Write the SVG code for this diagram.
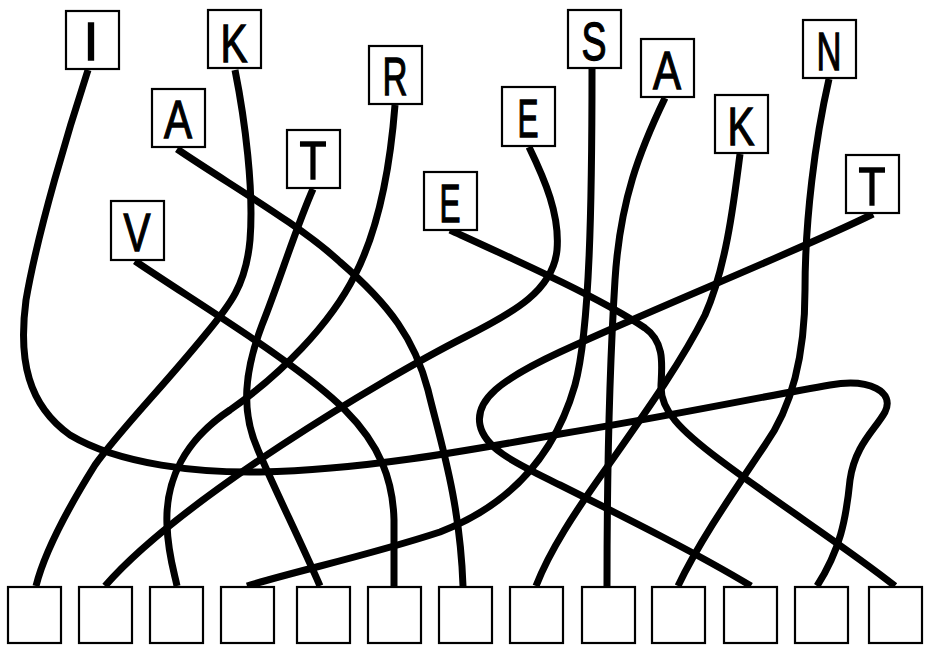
<svg xmlns="http://www.w3.org/2000/svg" width="928" height="646" viewBox="0 0 928 646">
<style>
.bx{fill:#fff;stroke:#000;stroke-width:2.2}
.lb{font-family:"Liberation Sans",Arial,sans-serif;font-size:54px;font-weight:normal;text-anchor:middle;fill:#000;stroke:#000;stroke-width:1.3}
.ln{fill:none;stroke:#000;stroke-width:7;stroke-linecap:butt}
</style>
<rect width="928" height="646" fill="#fff"/>
<g id="connectors">
<path class="ln" d="M88,70 C70,125 38,230 26,300 C18,360 28,405 70,435 C120,465 200,473 260,472 C360,470 460,452 560,434 C660,418 760,397 830,385 C870,378 895,392 885,412 C875,430 855,445 850,480 C846,520 840,550 817,586"/>
<path class="ln" d="M235,70 C245,120 254,190 250,240 C246,285 230,305 205,335 C160,390 120,430 95,465 C70,505 45,550 36,586"/>
<path class="ln" d="M177,149 C230,185 300,225 340,262 C390,305 415,340 428,390 C440,440 460,500 463,586"/>
<path class="ln" d="M395,105 C390,170 378,230 355,275 C330,325 280,375 230,410 C185,440 165,480 167,525 C168,555 175,575 177,586"/>
<path class="ln" d="M313,189 C295,230 280,280 262,325 C245,370 240,410 258,450 C275,490 300,540 320,586"/>
<path class="ln" d="M135,261 C200,305 300,365 345,410 C380,445 393,480 394,520 C394,550 394,570 394,586"/>
<path class="ln" d="M450,230 C520,262 600,298 645,328 C665,342 662,365 661,385 C660,410 680,430 720,460 C780,505 850,550 895,586"/>
<path class="ln" d="M529,147 C545,180 560,215 557,250 C553,290 515,312 465,337 C380,380 180,500 105,586"/>
<path class="ln" d="M873,214 C800,250 650,310 560,352 C500,380 475,400 480,425 C485,450 520,465 560,485 C630,520 700,555 751,586"/>
<path class="ln" d="M592,69 C592,200 590,330 575,385 C555,455 510,505 440,532 C370,555 300,570 247,586"/>
<path class="ln" d="M665,98 C640,150 620,200 615,280 C610,360 607,450 607,586"/>
<path class="ln" d="M740,154 C733,210 725,270 705,315 C680,365 640,420 605,470 C575,512 550,550 536,586"/>
<path class="ln" d="M829,79 C815,140 805,220 805,290 C805,360 790,410 765,445 C735,490 700,540 678,586"/>
</g>
<g id="top-I"><rect class="bx" x="66" y="11" width="53" height="58"/><text class="lb" x="91" y="60">I</text></g>
<g id="top-K1"><rect class="bx" x="208" y="10" width="53" height="58"/><text class="lb" x="234" y="62" textLength="27" lengthAdjust="spacingAndGlyphs">K</text></g>
<g id="top-A1"><rect class="bx" x="152" y="89" width="53" height="58"/><text class="lb" x="178" y="138" textLength="28" lengthAdjust="spacingAndGlyphs">A</text></g>
<g id="top-R"><rect class="bx" x="369" y="46" width="53" height="58"/><text class="lb" x="395" y="95" textLength="25" lengthAdjust="spacingAndGlyphs">R</text></g>
<g id="top-T1"><rect class="bx" x="287" y="130" width="53" height="58"/><text class="lb" x="313" y="179" textLength="27" lengthAdjust="spacingAndGlyphs">T</text></g>
<g id="top-V"><rect class="bx" x="111" y="201" width="53" height="59"/><text class="lb" x="137" y="251" textLength="27" lengthAdjust="spacingAndGlyphs">V</text></g>
<g id="top-E1"><rect class="bx" x="424" y="172" width="53" height="58"/><text class="lb" x="450" y="222" textLength="21" lengthAdjust="spacingAndGlyphs">E</text></g>
<g id="top-E2"><rect class="bx" x="502" y="87" width="53" height="59"/><text class="lb" x="528" y="137" textLength="21" lengthAdjust="spacingAndGlyphs">E</text></g>
<g id="top-S"><rect class="bx" x="568" y="10" width="53" height="58"/><text class="lb" x="594" y="60" textLength="25" lengthAdjust="spacingAndGlyphs">S</text></g>
<g id="top-A2"><rect class="bx" x="641" y="39" width="53" height="58"/><text class="lb" x="667" y="89" textLength="28" lengthAdjust="spacingAndGlyphs">A</text></g>
<g id="top-K2"><rect class="bx" x="715" y="95" width="53" height="58"/><text class="lb" x="741" y="145" textLength="27" lengthAdjust="spacingAndGlyphs">K</text></g>
<g id="top-N"><rect class="bx" x="803" y="20" width="53" height="58"/><text class="lb" x="829" y="70" textLength="25" lengthAdjust="spacingAndGlyphs">N</text></g>
<g id="top-T2"><rect class="bx" x="846" y="155" width="53" height="58"/><text class="lb" x="872" y="205" textLength="27" lengthAdjust="spacingAndGlyphs">T</text></g>
<g id="bottom-0"><rect class="bx" x="8" y="587" width="53" height="56"/></g>
<g id="bottom-1"><rect class="bx" x="79" y="587" width="53" height="56"/></g>
<g id="bottom-2"><rect class="bx" x="150" y="587" width="53" height="56"/></g>
<g id="bottom-3"><rect class="bx" x="221" y="587" width="53" height="56"/></g>
<g id="bottom-4"><rect class="bx" x="297" y="587" width="53" height="56"/></g>
<g id="bottom-5"><rect class="bx" x="368" y="587" width="53" height="56"/></g>
<g id="bottom-6"><rect class="bx" x="439" y="587" width="53" height="56"/></g>
<g id="bottom-7"><rect class="bx" x="510" y="587" width="53" height="56"/></g>
<g id="bottom-8"><rect class="bx" x="582" y="587" width="53" height="56"/></g>
<g id="bottom-9"><rect class="bx" x="652" y="587" width="53" height="56"/></g>
<g id="bottom-10"><rect class="bx" x="724" y="587" width="53" height="56"/></g>
<g id="bottom-11"><rect class="bx" x="795" y="587" width="53" height="56"/></g>
<g id="bottom-12"><rect class="bx" x="869" y="587" width="53" height="56"/></g>
</svg>
